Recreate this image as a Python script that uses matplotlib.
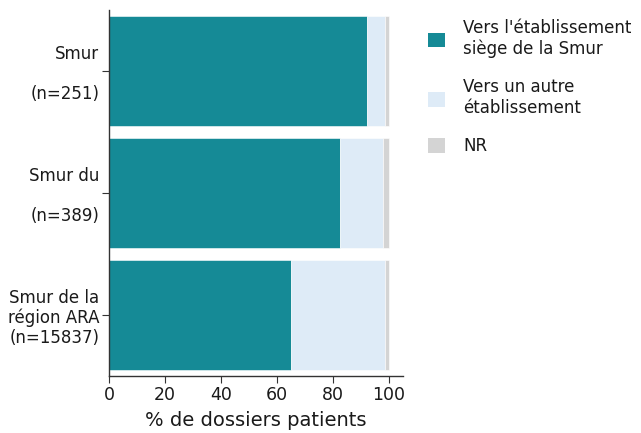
import numpy as np
import matplotlib
matplotlib.use("Agg")
import matplotlib.pyplot as plt
from matplotlib.patches import Patch

# Données : répartition des transferts par Smur (%)
categories = ["Smur\n\n(n=251)", "Smur du\n\n(n=389)", "Smur de la\nrégion ARA\n(n=15837)"]
series_names = ["Vers l'établissement\nsiège de la Smur", "Vers un autre\nétablissement", "NR"]
siege = [92.0, 82.5, 64.9]
autre = [6.6, 15.2, 33.7]
nr = [1.4, 2.3, 1.4]
couleurs = ["#158A96", "#DEEBF7", "#D4D4D4"]
xticks = [0, 20, 40, 60, 80, 100]

plt.rcParams['font.family'] = ['DejaVu Sans']

fig = plt.figure(figsize=(6.41, 4.33), dpi=100)
ax = fig.add_axes([109 / 641, 1 - 376 / 433, (403 - 109) / 641, 366 / 433])

y = np.arange(len(categories))
gauche = np.zeros(len(categories))
for valeurs, coul in zip([siege, autre, nr], couleurs):
    ax.barh(y, valeurs, left=gauche, height=0.9, color=coul,
            edgecolor='white', linewidth=0.4)
    gauche = gauche + np.array(valeurs)

ax.set_ylim(2.5, -0.5)
ax.set_xlim(0, 105)
ax.set_yticks(y)
ax.set_yticklabels(categories, fontsize=12, linespacing=1.15)
ax.set_xticks(xticks)
ax.set_xticklabels([str(t) for t in xticks], fontsize=12.5)
ax.set_xlabel('% de dossiers patients', fontsize=14, color='#1a1a1a', labelpad=5)

for s in ['top', 'right']:
    ax.spines[s].set_visible(False)
for s in ['left', 'bottom']:
    ax.spines[s].set_color('#333333')
    ax.spines[s].set_linewidth(1)
ax.tick_params(color='#333333', labelcolor='#1a1a1a', length=5, pad=2)

handles = [Patch(facecolor=c, edgecolor='none') for c in couleurs]
fig.legend(handles, series_names, loc='upper left', bbox_to_anchor=(413 / 641, 1 - 4 / 433),
           frameon=False, handlelength=1.0, handleheight=1.0, labelcolor='#1a1a1a',
           labelspacing=1.2, handletextpad=1.1, prop={'size': 12})

fig.savefig('out.png', dpi=100)
